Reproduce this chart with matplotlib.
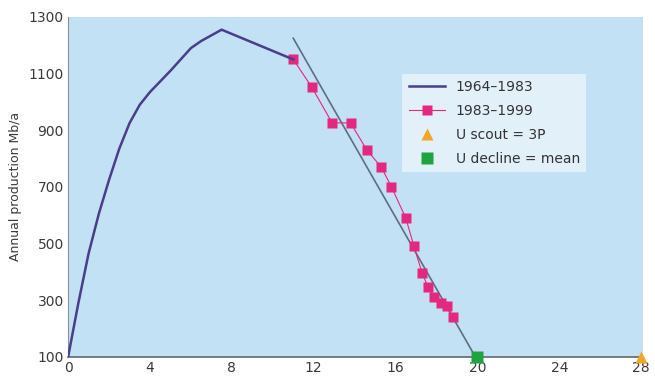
import matplotlib.pyplot as plt

# production history, 1964-1983 (years since start vs Mb/a)
early_years = [0, 0.5, 1, 1.5, 2, 2.5, 3, 3.5, 4, 5, 6, 6.5, 7.5, 9, 11]
early_prod = [100, 290, 465, 605, 725, 835, 925, 990, 1035, 1110, 1190, 1215, 1255, 1210, 1150]

# production 1983-1999
late_years = [11.0, 11.9, 12.9, 13.8, 14.6, 15.3, 15.8, 16.5, 16.9, 17.3, 17.6, 17.9, 18.2, 18.5, 18.8]
late_prod = [1150, 1053, 926, 926, 830, 770, 700, 590, 490, 395, 345, 310, 290, 280, 240]

# linear decline fit
decline_x = [11.0, 19.9]
decline_y = [1225, 100]

scout_x, scout_y = [28], [100]
mean_x, mean_y = [20], [100]

xticks = [0, 4, 8, 12, 16, 20, 24, 28]
yticks = [100, 300, 500, 700, 900, 1100, 1300]

fig = plt.figure(figsize=(6.55, 3.85), dpi=100)
ax = fig.add_axes([0.104, 0.073, 0.878, 0.883])
ax.set_facecolor('#c2e1f4')

ax.plot(decline_x, decline_y, color='#5e6e7e', lw=1.2, zorder=2)
ax.plot(late_years, late_prod, color='#e4277f', lw=0.8, marker='s', ms=6.5,
        mec='none', label='1983\u20131999', zorder=3)
ax.plot(early_years, early_prod, color='#4a3d8c', lw=1.8, label='1964\u20131983', zorder=4)
ax.plot(scout_x, scout_y, ls='none', marker='^', ms=9, color='#f2a623',
        mec='none', label='U scout = 3P', clip_on=False, zorder=5)
ax.plot(mean_x, mean_y, ls='none', marker='s', ms=9, color='#1fa33f',
        mec='none', label='U decline = mean', clip_on=False, zorder=5)

ax.set_xlim(0, 28.1)
ax.set_ylim(100, 1300)
ax.set_xticks(xticks)
ax.set_yticks(yticks)
ax.tick_params(length=0, labelsize=10, colors='#3a3a3a', pad=3)

for side in ['top', 'right']:
    ax.spines[side].set_visible(False)
ax.spines['left'].set_color('#8a9298')
ax.spines['bottom'].set_color('#5f6a72')
ax.spines['bottom'].set_linewidth(1.2)

ax.set_ylabel('Annual production Mb/a', fontsize=9, color='#3a3a3a', labelpad=5)

handles, labels = ax.get_legend_handles_labels()
order = [1, 0, 2, 3]
leg = ax.legend([handles[i] for i in order], [labels[i] for i in order],
                loc='upper left', bbox_to_anchor=(0.569, 0.853), fontsize=10,
                frameon=True, fancybox=False, handlelength=2.6, labelspacing=0.72,
                borderpad=0.45, handletextpad=0.8)
leg.get_frame().set_facecolor('#e2f0f9')
leg.get_frame().set_edgecolor('none')
leg.get_frame().set_alpha(1)
for t in leg.get_texts():
    t.set_color('#333333')

fig.savefig('out.png', dpi=100)
